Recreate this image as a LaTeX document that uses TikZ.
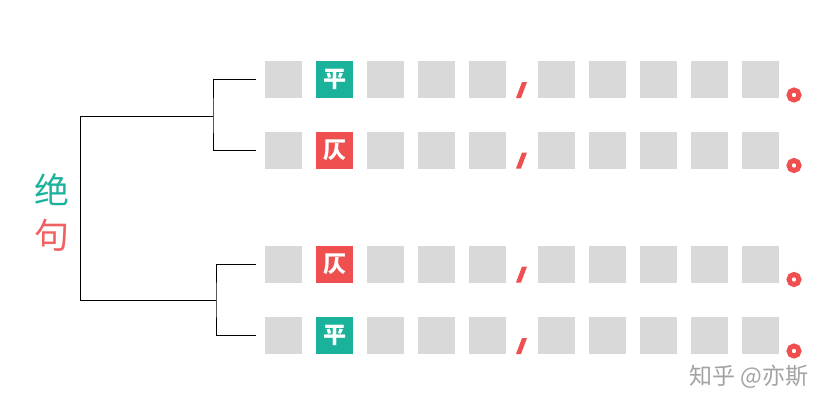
\documentclass[tikz,border=0pt]{standalone}
\usepackage{fontspec}
\newfontfamily\cjk{Noto Sans CJK SC}
\definecolor{pingteal}{HTML}{1AB29B}
\definecolor{zered}{HTML}{EF4F4F}
\definecolor{cellgray}{HTML}{D9D9D9}
\definecolor{markgray}{HTML}{A3A3A3}
\begin{document}
\begin{tikzpicture}[x=1pt,y=-1pt,
   cell/.style={fill=cellgray, inner sep=0, minimum size=37pt},
   ping/.style={cell, fill=pingteal, text=white, font=\cjk\bfseries\fontsize{23}{23}\selectfont},
   ze/.style={ping, fill=zered},
   branch/.style={draw=black, line width=0.9pt},
   title/.style={inner sep=0, font=\cjk\fontsize{35}{35}\selectfont}
  ]
  \useasboundingbox (0,0) rectangle (837,412);
  \node[title, text=pingteal] (jue) at (52,190) {绝};
  \node[title, text=zered!90!white] (ju) at (52,235) {句};
  \foreach \y/\n/\tone/\ch in {79.5/1/ping/平, 150/2/ze/仄, 264/3/ze/仄, 335.5/4/ping/平} {
    \node[cell] (r\n c1) at (283.5,\y) {};
    \node[\tone] (r\n c2) at (334.5,\y) {\ch};
    \foreach \i in {3,4,5}
      \node[cell] (r\n c\i) at ({283.5+51*(\i-1)},\y) {};
    \foreach \i in {6,...,10}
      \node[cell] (r\n c\i) at ({556+51*(\i-6)},\y) {};
    % comma and full stop
    \fill[zered] (516,\y+18.5) -- (521,\y+18.5) -- (527,\y+2.5) -- (522,\y+2.5) -- cycle;
    \draw[zered, line width=5pt] (794,\y+15.5) circle (5);
  }
  \coordinate (upper) at (213,116);
  \coordinate (lower) at (216,300);
  \draw[branch] ([xshift=-9pt]r1c1.west) -| (upper) |- ([xshift=-9pt]r2c1.west);
  \draw[branch] ([xshift=-9pt]r3c1.west) -| (lower) |- ([xshift=-9pt]r4c1.west);
  \draw[branch] (upper) -- ++(-133,0) |- (lower);
  \node[text=markgray, font=\cjk\fontsize{23}{23}\selectfont] (mark) at (749,377) {知乎 @亦斯};
\end{tikzpicture}
\end{document}
